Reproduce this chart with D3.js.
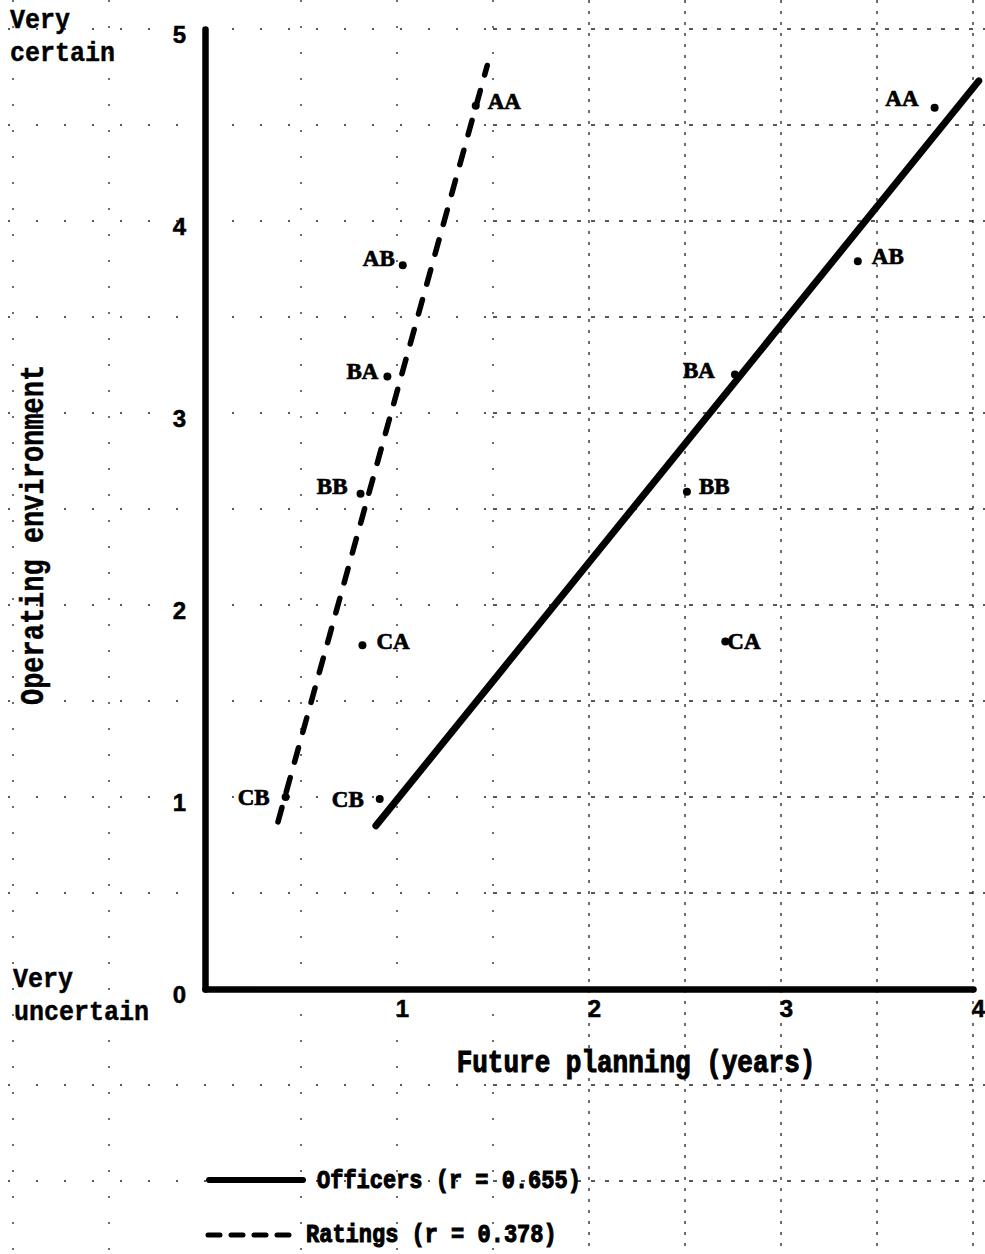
<!DOCTYPE html>
<html><head><meta charset="utf-8">
<script src="https://cdn.jsdelivr.net/npm/d3@7"></script>
<style>body{margin:0;background:#fff}svg{display:block}</style>
</head><body><svg id="c" width="985" height="1254"></svg>
<script>
// ---------- data ----------
const categories = ["AA","AB","BA","BB","CA","CB"];
const officersX = [3.80, 3.40, 2.76, 2.51, 2.71, 0.91];
const officersY = [4.59, 3.79, 3.20, 2.59, 1.81, 0.99];
const ratingsX  = [1.41, 1.03, 0.95, 0.81, 0.82, 0.42];
const ratingsY  = [4.60, 3.77, 3.19, 2.58, 1.79, 1.00];
const officersFitX = [0.89, 4.03];
const officersFitY = [0.85, 4.73];
const ratingsFitX  = [0.38, 1.47];
const ratingsFitY  = [0.87, 4.81];
const xTicks = [1, 2, 3, 4];
const yTicks = [0, 1, 2, 3, 4, 5];
const gridXValues = [-1, -0.5, 0.5, 1, 1.5, 2, 2.5, 3, 3.5, 4];
const gridYValues = [-1, -0.5, 0.5, 1, 1.5, 2, 2.5, 3, 3.5, 4, 4.5, 5];
const seriesNames = ["Officers", "Ratings"];
const legendLabels = ["Officers (r = 0.655)", "Ratings (r = 0.378)"];
const xTitle = "Future planning (years)";
const yTitle = "Operating environment";
const topLabel = ["Very", "certain"];
const bottomLabel = ["Very", "uncertain"];

// ---------- layout / style ----------
const W = 985, H = 1254;
const svg = d3.select("#c");
const x = d3.scaleLinear().domain([0, 4]).range([205, 973]);
const y = d3.scaleLinear().domain([0, 5]).range([989, 29]);
const mono = "'Liberation Mono', 'Courier New', monospace";
const serif = "'Liberation Serif', 'Times New Roman', serif";
const sans = "'Liberation Sans', Arial, sans-serif";

// label placement per series/category: [dx, dy, anchor]
const labelPlace = {
  Ratings:  {AA:[12,-5,"start"], AB:[-8,-7,"end"], BA:[-9,-6,"end"], BB:[-13,-8,"end"], CA:[14,-4,"start"], CB:[-16,0,"end"]},
  Officers: {AA:[-16,-10,"end"], AB:[14,-5,"start"], BA:[-20,-5,"end"], BB:[12,-6,"start"], CA:[2,0,"start"], CB:[-16,0,"end"]}
};

// ---------- background grid (graph paper) ----------
const grid = svg.append("g").attr("stroke", "#222").attr("stroke-width", 1.3).attr("fill", "none");
grid.selectAll("line.gv").data(gridXValues).join("line")
  .attr("class", "gv")
  .attr("x1", d => x(d)).attr("x2", d => x(d))
  .attr("y1", 0).attr("y2", H)
  .attr("stroke-dasharray", d => d >= 2 ? "3,8" : "2,24");
grid.selectAll("line.ghL").data(gridYValues).join("line")
  .attr("class", "ghL")
  .attr("x1", 8).attr("x2", x(1.5))
  .attr("y1", d => y(d)).attr("y2", d => y(d))
  .attr("stroke-dasharray", "2,26");
grid.selectAll("line.ghR").data(gridYValues).join("line")
  .attr("class", "ghR")
  .attr("x1", x(1.5)).attr("x2", W)
  .attr("y1", d => y(d)).attr("y2", d => y(d))
  .attr("stroke-dasharray", "4,10");

// ---------- axes ----------
const yAxis = svg.append("g").attr("transform", `translate(${x(0)},0)`)
  .call(d3.axisLeft(y).tickValues(yTicks).tickSize(0).tickSizeOuter(0).tickPadding(19).tickFormat(d3.format("d")));
const xAxis = svg.append("g").attr("transform", `translate(0,${y(0)})`)
  .call(d3.axisBottom(x).tickValues(xTicks).tickSize(0).tickSizeOuter(0).tickPadding(11).tickFormat(d3.format("d")));
[xAxis, yAxis].forEach(a => {
  a.select(".domain").attr("stroke", "#000").attr("stroke-width", 6.5).attr("stroke-linecap", "round");
  a.selectAll("text").attr("fill", "#000").attr("font-family", sans).attr("font-weight", "bold").attr("font-size", 24)
    .attr("stroke", "#000").attr("stroke-width", 0.5);
});
yAxis.selectAll("text").attr("dy", "0.58em");
xAxis.selectAll("text").attr("dx", "0.2em");

// ---------- fitted lines ----------
const lineGen = d3.line().x(d => x(d[0])).y(d => y(d[1]));
svg.append("path")
  .datum(d3.zip(officersFitX, officersFitY))
  .attr("d", lineGen).attr("fill", "none").attr("stroke", "#000")
  .attr("stroke-width", 7).attr("stroke-linecap", "round");
svg.append("path")
  .datum(d3.zip(ratingsFitX, ratingsFitY))
  .attr("d", lineGen).attr("fill", "none").attr("stroke", "#000")
  .attr("stroke-width", 5.5).attr("stroke-linecap", "round")
  .attr("stroke-dasharray", "15,16");

// ---------- points + labels ----------
const series = [
  {name: "Officers", xs: officersX, ys: officersY},
  {name: "Ratings",  xs: ratingsX,  ys: ratingsY}
];
series.forEach(s => {
  const pts = categories.map((c, i) => ({c, x: s.xs[i], y: s.ys[i]}));
  const g = svg.append("g");
  g.selectAll("circle").data(pts).join("circle")
    .attr("cx", d => x(d.x)).attr("cy", d => y(d.y)).attr("r", 4).attr("fill", "#000");
  g.selectAll("text").data(pts).join("text")
    .attr("x", d => x(d.x) + labelPlace[s.name][d.c][0])
    .attr("y", d => y(d.y) + labelPlace[s.name][d.c][1] + 8)
    .attr("text-anchor", d => labelPlace[s.name][d.c][2])
    .attr("font-family", serif).attr("font-weight", "bold").attr("font-size", 23)
    .attr("fill", "#000").attr("stroke", "#000").attr("stroke-width", 0.7)
    .text(d => d.c);
});

// ---------- typewriter text helper ----------
function tw(str, tx, ty, size, anchor, rot, sy, sw) {
  svg.append("text")
    .attr("transform", `translate(${tx},${ty})` + (rot ? ` rotate(${rot})` : "") + ` scale(1,${sy})`)
    .attr("text-anchor", anchor)
    .attr("font-family", mono).attr("font-weight", "bold").attr("font-size", size)
    .attr("fill", "#000").attr("stroke", "#000").attr("stroke-width", sw)
    .text(str);
}
tw(topLabel[0], 10, 28, 25, "start", 0, 1.1, 0.4);
tw(topLabel[1], 10, 61, 25, "start", 0, 1.1, 0.4);
tw(bottomLabel[0], 13, 987, 25, "start", 0, 1.1, 0.4);
tw(bottomLabel[1], 14, 1020, 25, "start", 0, 1.1, 0.4);
tw(yTitle, 43, 535, 27, "middle", -90, 1.2, 0.4);
tw(xTitle, 636, 1072, 26, "middle", 0, 1.2, 0.9);

// ---------- legend ----------
const legend = svg.append("g");
const legendY = [1180, 1235];
legend.append("line").attr("x1", 209).attr("x2", 303).attr("y1", legendY[0]).attr("y2", legendY[0])
  .attr("stroke", "#000").attr("stroke-width", 6).attr("stroke-linecap", "round");
legend.append("line").attr("x1", 208).attr("x2", 292).attr("y1", legendY[1]).attr("y2", legendY[1])
  .attr("stroke", "#000").attr("stroke-width", 5).attr("stroke-linecap", "round")
  .attr("stroke-dasharray", "12,11");
tw(legendLabels[0], 317, legendY[0] + 8, 22, "start", 0, 1.2, 0.9);
tw(legendLabels[1], 306, legendY[1] + 7, 22, "start", 0, 1.2, 0.9);
</script>
</body></html>
